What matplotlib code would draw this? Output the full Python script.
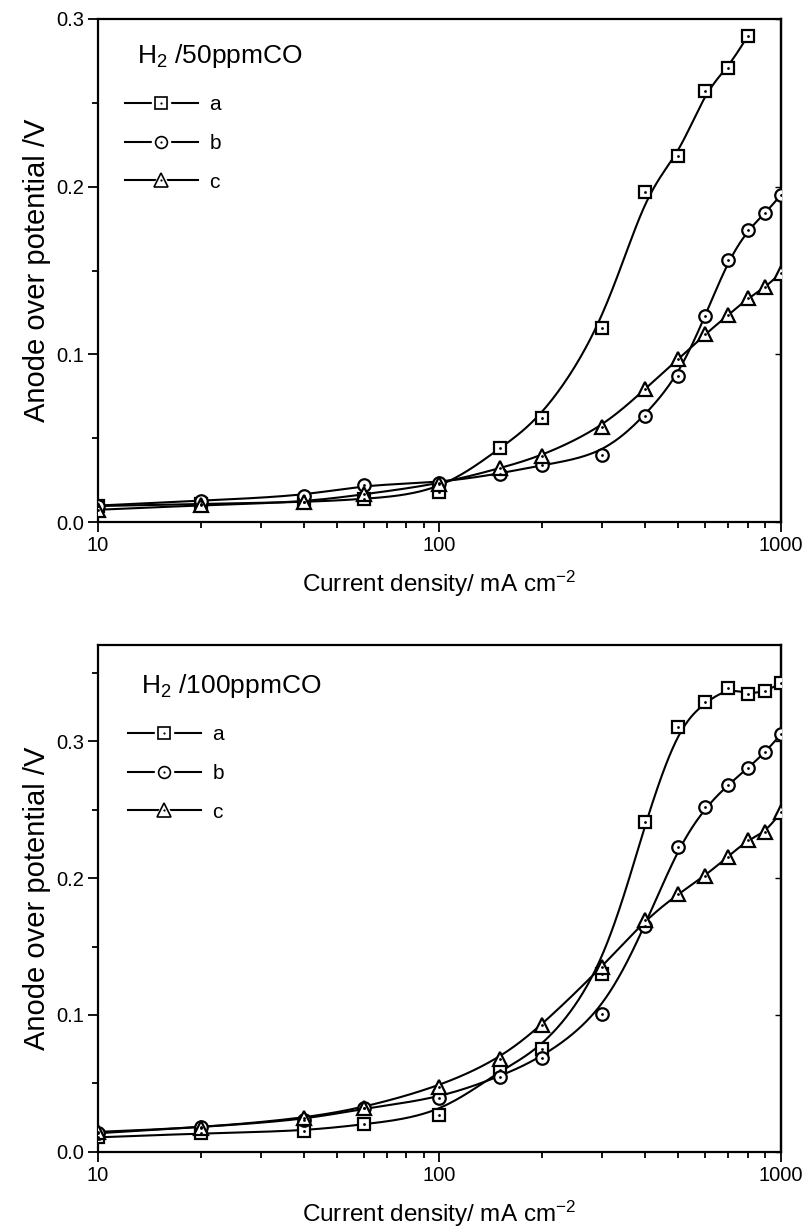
import numpy as np
import matplotlib
matplotlib.use("Agg")
import matplotlib.pyplot as plt
from matplotlib.lines import Line2D
from matplotlib.legend_handler import HandlerTuple
from matplotlib.ticker import MultipleLocator, FixedLocator, NullFormatter, FormatStrFormatter

plt.rcParams["font.family"] = ["Liberation Sans", "DejaVu Sans"]
plt.rcParams["mathtext.fontset"] = "custom"
plt.rcParams["mathtext.rm"] = "Liberation Sans"
plt.rcParams["mathtext.it"] = "Liberation Sans:italic"
plt.rcParams["mathtext.bf"] = "Liberation Sans:bold"

# ---- data ----
current = [10, 20, 40, 60, 100, 150, 200, 300, 400, 500, 600, 700, 800, 900, 1000]

top_a = [0.0095, 0.0108, 0.0118, 0.0136, 0.0176, 0.044, 0.062, 0.116, 0.197, 0.218, 0.257, 0.271, 0.290]
top_b = [0.0098, 0.0128, 0.0155, 0.0222, 0.0234, 0.0288, 0.034, 0.040, 0.0634, 0.087, 0.1228, 0.156, 0.1741, 0.1844, 0.195]
top_c = [0.0073, 0.0100, 0.0118, 0.0165, 0.0226, 0.032, 0.0394, 0.0564, 0.0794, 0.097, 0.112, 0.1234, 0.1334, 0.140, 0.1487]

bot_a = [0.0105, 0.0134, 0.0151, 0.020, 0.0268, 0.0598, 0.0749, 0.130, 0.2414, 0.3105, 0.3285, 0.339, 0.3346, 0.3365, 0.3427]
bot_b = [0.0135, 0.0180, 0.0232, 0.0317, 0.039, 0.0549, 0.0688, 0.101, 0.165, 0.2227, 0.2517, 0.2683, 0.2805, 0.2922, 0.3053]
bot_c = [0.0145, 0.0176, 0.0244, 0.0322, 0.0476, 0.0678, 0.0927, 0.1353, 0.1695, 0.1885, 0.2019, 0.2158, 0.228, 0.2337, 0.2483]

series_labels = ["a", "b", "c"]
panel_titles = ["H$_\\mathregular{2}$ /50ppmCO", "H$_\\mathregular{2}$ /100ppmCO"]
x_ticks = [10, 100, 1000]
x_ticklabels = ["10", "100", "1000"]

markers = ["s", "o", "^"]
msizes = [8.5, 9, 10]


def bspline(xs, ys, n=40):
    """Cubic B-spline (clamped ends) in log10(x) space, like Origin's B-spline line."""
    lx = np.log10(np.asarray(xs, float))
    P = np.column_stack([lx, np.asarray(ys, float)])
    P = np.vstack([P[0], P[0], P, P[-1], P[-1]])
    t = np.linspace(0, 1, n)[:, None]
    b0 = (1 - t) ** 3 / 6
    b1 = (3 * t**3 - 6 * t**2 + 4) / 6
    b2 = (-3 * t**3 + 3 * t**2 + 3 * t + 1) / 6
    b3 = t**3 / 6
    segs = []
    for i in range(len(P) - 3):
        segs.append(b0 * P[i] + b1 * P[i + 1] + b2 * P[i + 2] + b3 * P[i + 3])
    C = np.vstack(segs)
    return 10 ** C[:, 0], C[:, 1]


W, H = 803, 1229
fig = plt.figure(figsize=(W / 100, H / 100), dpi=100)

panels = [
    dict(data=[top_a, top_b, top_c], rect=(98, 19, 781, 522), ymax=0.3,
         title_xy=(137, 56), leg_xy=(125, 95)),
    dict(data=[bot_a, bot_b, bot_c], rect=(98, 645, 781, 1151.7), ymax=0.3705,
         title_xy=(141, 686), leg_xy=(128, 725)),
]

for k, p in enumerate(panels):
    x0, y0, x1, y1 = p["rect"]
    ax = fig.add_axes([x0 / W, 1 - y1 / H, (x1 - x0) / W, (y1 - y0) / H])
    ax.set_xscale("log")
    ax.set_xlim(10, 1000)
    ax.set_ylim(0, p["ymax"])

    handles = []
    for vals, m, ms, lab in zip(p["data"], markers, msizes, series_labels):
        xs = current[: len(vals)]
        sx, sy = bspline(xs, vals)
        ax.plot(sx, sy, color="black", lw=1.5, zorder=2)
        ax.plot(xs, vals, ls="none", marker=m, ms=ms, mfc="white", mec="black",
                mew=1.6, zorder=3)
        ax.plot(xs, vals, ls="none", marker="o", ms=2.0, mfc="black", mec="black",
                mew=0, zorder=4)
        h_line = Line2D([], [], color="black", lw=1.5)
        h_gap = Line2D([], [], ls="none", marker=m, ms=ms + 4, mfc="white", mec="white")
        h_mark = Line2D([], [], ls="none", marker=m, ms=ms - 0.5, mfc="white", mec="black", mew=1.2)
        h_dot = Line2D([], [], ls="none", marker="o", ms=1.6, mfc="black", mec="black", mew=0)
        handles.append((h_line, h_gap, h_mark, h_dot))

    for s in ax.spines.values():
        s.set_linewidth(1.6)

    ax.xaxis.set_major_locator(FixedLocator(x_ticks))
    ax.set_xticklabels(x_ticklabels)
    ax.xaxis.set_minor_locator(FixedLocator([v * d for d in (10, 100) for v in range(2, 10)]))
    ax.xaxis.set_minor_formatter(NullFormatter())
    ax.yaxis.set_major_locator(MultipleLocator(0.1))
    ax.yaxis.set_minor_locator(MultipleLocator(0.05))
    ax.yaxis.set_major_formatter(FormatStrFormatter("%.1f"))
    ax.tick_params(which="major", direction="out", length=7, width=1.3, labelsize=14.5, pad=3)
    ax.tick_params(which="minor", direction="out", length=4, width=1.3)

    sec = ax.secondary_yaxis("right")
    sec.yaxis.set_major_locator(MultipleLocator(0.1))
    sec.tick_params(which="major", direction="in", length=4, width=1.0, labelright=False)
    sec.yaxis.set_minor_locator(MultipleLocator(0.05))
    sec.tick_params(which="minor", direction="in", length=0)
    sec.spines["right"].set_linewidth(1.6)

    ax.set_xlabel("Current density/ mA cm$^\\mathregular{-2}$", fontsize=17.5, labelpad=10)
    ax.set_ylabel("Anode over potential /V", fontsize=21, labelpad=4)

    tx, ty = p["title_xy"]
    ax.text((tx - x0) / (x1 - x0), 1 - (ty - y0) / (y1 - y0), panel_titles[k],
            transform=ax.transAxes, fontsize=19, va="center", ha="left")

    lx, ly = p["leg_xy"]
    ax.legend(handles, series_labels, handler_map={tuple: HandlerTuple(ndivide=1, pad=0)},
              loc="upper left",
              bbox_to_anchor=((lx - x0) / (x1 - x0), 1 - (ly - y0) / (y1 - y0)),
              frameon=False, fontsize=15, handlelength=3.5, handletextpad=0.55,
              labelspacing=0.95, borderpad=0, borderaxespad=0)

fig.savefig("out.png", dpi=100)
